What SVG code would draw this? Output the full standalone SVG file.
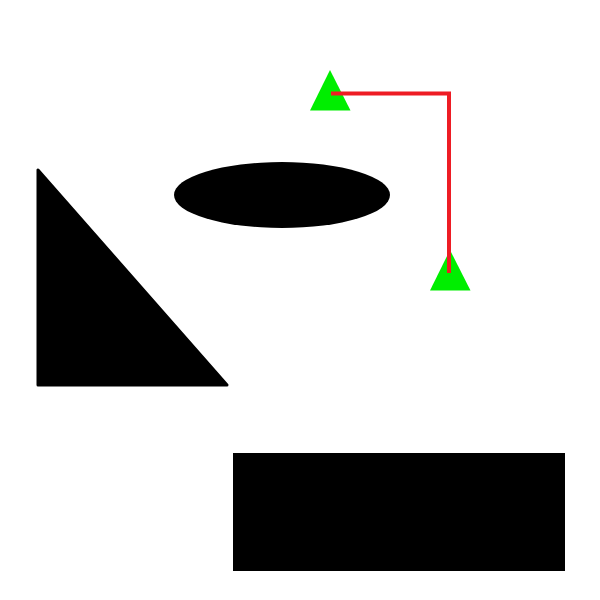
<svg xmlns="http://www.w3.org/2000/svg" width="600" height="600" viewBox="0 0 600 600">
<style>
.shape{fill:#000}
.marker{fill:#00ee00}
.conn{fill:none;stroke:#ee1c24;stroke-width:4;stroke-linejoin:miter}
</style>
<rect width="600" height="600" fill="#fff"/>
<g id="triangle-left"><polygon class="shape" points="38,170 38,385 227,385" stroke="#000" stroke-width="3" stroke-linejoin="round"/></g>
<g id="ellipse"><ellipse class="shape" cx="282" cy="195" rx="108" ry="33"/></g>
<g id="rect"><rect class="shape" x="233" y="453" width="332" height="118"/></g>
<g id="marker-a"><polygon class="marker" points="330,70 310,110.5 350.5,110.5"/></g>
<g id="marker-b"><polygon class="marker" points="450,250 430,290.5 470.5,290.5"/></g>
<g id="connectors"><polyline class="conn" points="331,93.5 449,93.5 449,273"/></g>
</svg>
